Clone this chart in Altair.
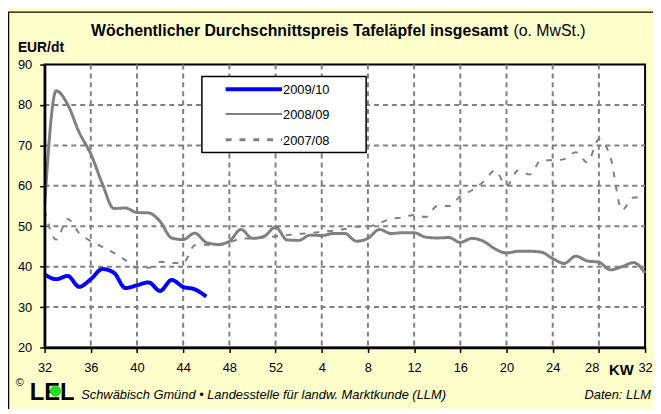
import json
import altair as alt
import pandas as pd

# ---------------- data ----------------
week_labels = [32, 33, 34, 35, 36, 37, 38, 39, 40, 41, 42, 43, 44, 45, 46, 47, 48, 49, 50, 51, 52,
               1, 2, 3, 4, 5, 6, 7, 8, 9, 10, 11, 12, 13, 14, 15, 16, 17, 18, 19, 20,
               21, 22, 23, 24, 25, 26, 27, 28, 29, 30, 31, 32]
series_names = ["2009/10", "2008/09", "2007/08"]

v_2009_10 = [38.1, 36.9, 37.7, 35.0, 36.9, 39.4, 38.5, 34.7, 35.4, 36.1, 34.0, 36.7, 35.0, 34.4, 32.6]

v_2008_09 = [55.0, 83.5, 80.1, 73.2, 67.9, 60.5, 54.4, 54.5, 53.4, 53.3,
             51.2, 47.1, 46.7, 48.3, 46.0, 45.5, 46.3, 49.2, 47.0, 47.5,
             49.8, 46.6, 46.5, 47.8, 47.7, 48.2, 48.2, 46.3, 47.0, 49.2,
             48.2, 48.4, 48.4, 47.3, 47.1, 47.2, 46.0, 47.0, 46.3, 44.4,
             43.4, 43.8, 43.8, 43.6, 42.0, 40.8, 42.6, 41.4, 41.1, 39.2,
             40.0, 41.0, 38.4]

v_2007_08 = [54.0, 46.7, 51.8, 48.3, 46.3, 44.9, 43.4, 41.6, 39.7, 39.7,
             41.2, 40.9, 40.9, 45.3, 45.4, 45.3, 46.0, 46.9, 47.0, 47.2,
             47.5, 47.8, 48.1, 48.3, 48.6, 48.9, 49.3, 49.9, 49.9, 50.8,
             51.8, 52.2, 52.8, 52.3, 55.0, 55.0, 57.4, 58.9, 61.0, 63.8,
             60.0, 63.8, 62.8, 66.3, 66.3, 66.6, 68.3, 65.8, 71.5, 67.1,
             54.0, 57.1, 57.1]

series_colors = ["#0000FF", "#808080", "#808080"]
series_dash = [[1, 0], [1, 0], [6, 8]]
series_width = [4, 2, 3]

y_ticks = [20, 30, 40, 50, 60, 70, 80, 90]
x_ticks = [0, 4, 8, 12, 16, 20, 24, 28, 32, 36, 40, 44, 48, 52]

title_bold = "Wöchentlicher Durchschnittspreis Tafeläpfel insgesamt"
title_normal = "(o. MwSt.)"
y_unit = "EUR/dt"
x_unit = "KW"
footer_text = "Schwäbisch Gmünd • Landesstelle für landw. Marktkunde (LLM)"
source_text = "Daten: LLM"
logo_text = "LEL"
copyright_text = "©"

rows = []
for name, vals in zip(series_names, [v_2009_10, v_2008_09, v_2007_08]):
    for i, v in enumerate(vals):
        rows.append({"series": name, "i": i, "value": v})
df = pd.DataFrame(rows)

FONT = "Liberation Sans"
W, H = 607, 286
X_DOMAIN = [0, 52]
Y_DOMAIN = [20, 90]

label_expr = json.dumps(week_labels) + "[datum.value]"

x_scale = alt.Scale(domain=X_DOMAIN, nice=False, zero=False)
y_scale = alt.Scale(domain=Y_DOMAIN, nice=False, zero=False)

x_enc = alt.X("i:Q", scale=x_scale,
              axis=alt.Axis(values=x_ticks, labelExpr=label_expr, title=None,
                            labelFlush=False, labelPadding=9, grid=False, zindex=1,
                            labelAlign=alt.expr("datum.value == 48 ? 'right' : 'center'")))
y_enc = alt.Y("value:Q", scale=y_scale,
              axis=alt.Axis(values=y_ticks, title=None, labelPadding=8, grid=False, zindex=1))

one = alt.Data(values=[{}])

# plot area background with frame
plot_bg = alt.Chart(one).mark_rect(fill="white", stroke="black", strokeWidth=2).encode(
    x=alt.value(0), x2=alt.value(W), y=alt.value(0), y2=alt.value(H))

# grid lines through the chart scales
GRID_COLOR = "#808080"
grid_x = alt.Chart(pd.DataFrame({"i": x_ticks[1:-1]})).mark_rule(
    color=GRID_COLOR, strokeDash=[5, 4], strokeWidth=2, opacity=1).encode(
    x=alt.X("i:Q", scale=x_scale), y=alt.value(0), y2=alt.value(H))
grid_y = alt.Chart(pd.DataFrame({"value": y_ticks[1:-1]})).mark_rule(
    color=GRID_COLOR, strokeDash=[5, 4], strokeWidth=2, opacity=1).encode(
    y=alt.Y("value:Q", scale=y_scale), x=alt.value(0), x2=alt.value(W))

lines = alt.Chart(df).mark_line(interpolate="monotone", strokeCap="butt").encode(
    x=x_enc,
    y=y_enc,
    color=alt.Color("series:N", scale=alt.Scale(domain=series_names, range=series_colors), legend=None),
    strokeDash=alt.StrokeDash("series:N", scale=alt.Scale(domain=series_names, range=series_dash), legend=None),
    strokeWidth=alt.StrokeWidth("series:N", scale=alt.Scale(domain=series_names, range=series_width), legend=None),
)


def txt(text, x, y, size, weight="normal", style="normal", align="left", color="black"):
    return alt.Chart(one).mark_text(
        text=text, font=FONT, fontSize=size, fontWeight=weight, fontStyle=style,
        align=align, baseline="alphabetic", color=color,
    ).encode(x=alt.value(x), y=alt.value(y))

# ---- legend box (decoration) ----
LX0, LX1, LY0, LY1 = 159, 325, 12, 89
legend_rows_y = [25, 50, 76]
legend_layers = [
    alt.Chart(one).mark_rect(fill="white", stroke="black", strokeWidth=1.5).encode(
        x=alt.value(LX0), x2=alt.value(LX1), y=alt.value(LY0), y2=alt.value(LY1))
]
for name, col, dash, wdt, ry in zip(series_names, series_colors, series_dash, series_width, legend_rows_y):
    legend_layers.append(
        alt.Chart(one).mark_rule(color=col, strokeDash=dash, strokeWidth=wdt, strokeCap="butt").encode(
            x=alt.value(183), x2=alt.value(240), y=alt.value(ry))
    )
    legend_layers.append(txt(name, 241, ry + 5, 13))

t1 = txt(title_bold, 47, -29, 16, weight="bold")
t2 = txt(title_normal, 474, -29, 16)
t3 = txt(y_unit, -27, -13, 14, weight="bold")
t4 = txt(x_unit, 583, 314, 15, weight="bold", align="center")
t5 = txt(footer_text, 37, 338, 13, style="italic")
t6 = txt(source_text, 613, 338, 13, style="italic", align="right")
t7 = txt(logo_text, -15, 339, 24, weight="bold")
t8 = txt(copyright_text, -25, 325, 11, align="center")
dot = alt.Chart(one).mark_circle(color="#22DD22", opacity=1, size=130).encode(
    x=alt.value(11), y=alt.value(330))

border_top = alt.Chart(one).mark_rule(color="black", strokeWidth=1.5).encode(
    x=alt.value(-37), x2=alt.value(620), y=alt.value(-53))
border_left = alt.Chart(one).mark_rule(color="black", strokeWidth=1.5).encode(
    x=alt.value(-36.5), y=alt.value(-53), y2=alt.value(360))

chart = alt.layer(
    plot_bg, grid_x, grid_y, lines, *legend_layers,
    t1, t2, t3, t4, t5, t6, t7, dot, t8, border_top, border_left
).properties(
    width=W, height=H,
    autosize=alt.AutoSizeParams(type="none"),
    padding={"left": 37, "top": 55, "right": 8, "bottom": 60},
    background="#FFFFCC",
).configure_view(
    stroke=None,
).configure_axis(
    domainColor="black", domainWidth=2.5, tickColor="black", tickSize=5, tickWidth=1.5,
    labelFont=FONT, labelFontSize=13, labelColor="black",
)

chart.save("out.html", embed_options={"renderer": "svg", "actions": False})
